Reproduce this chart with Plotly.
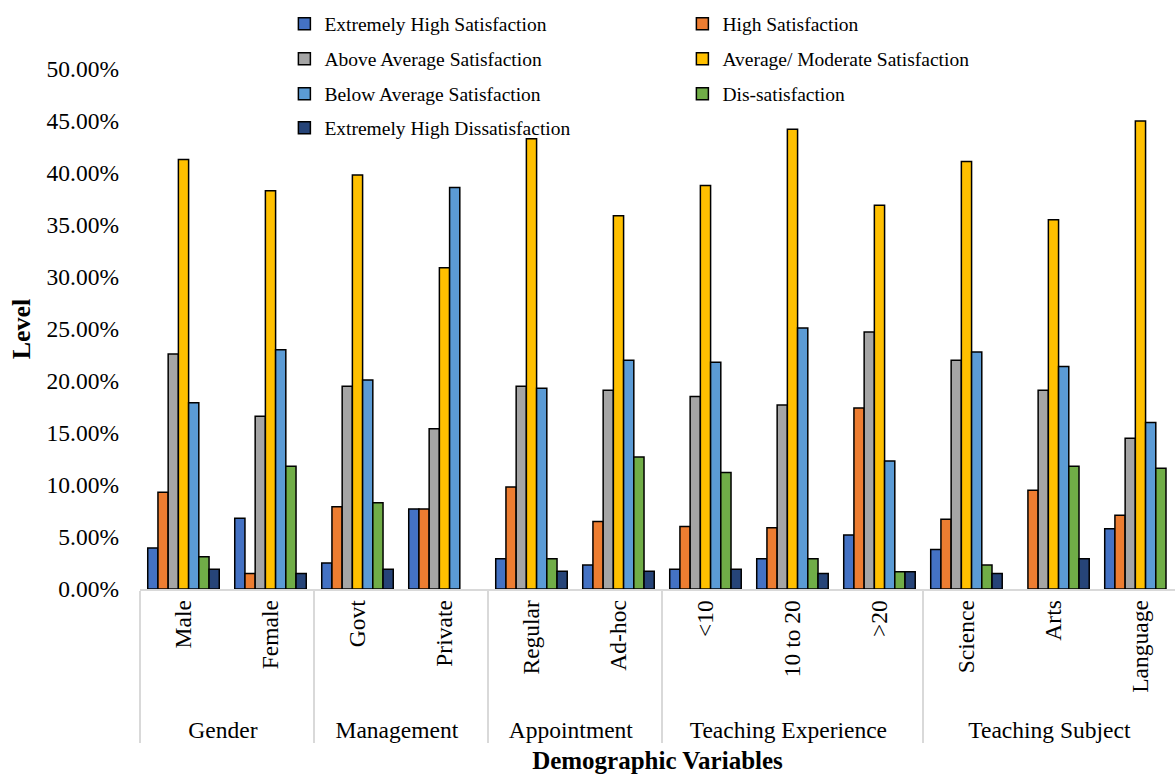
import plotly.graph_objects as go

# Demographic groups and their sub-categories
groups = ["Gender", "Gender", "Management", "Management", "Appointment", "Appointment",
          "Teaching Experience", "Teaching Experience", "Teaching Experience",
          "Teaching Subject", "Teaching Subject", "Teaching Subject"]
categories = ["Male", "Female", "Govt", "Private", "Regular", "Ad-hoc",
              "<10", "10 to 20", ">20", "Science", "Arts", "Language"]

# Satisfaction levels (percent of respondents)
extremely_high_satisfaction = [3.95, 6.8, 2.5, 7.7, 2.9, 2.3, 1.9, 2.9, 5.2, 3.8, 0, 5.8]
high_satisfaction = [9.3, 1.5, 7.9, 7.7, 9.8, 6.5, 6.0, 5.9, 17.4, 6.7, 9.5, 7.1]
above_average_satisfaction = [22.6, 16.6, 19.5, 15.4, 19.5, 19.1, 18.5, 17.7, 24.7, 22.0, 19.1, 14.5]
average_moderate_satisfaction = [41.3, 38.3, 39.8, 30.9, 43.3, 35.9, 38.8, 44.2, 36.9, 41.1, 35.5, 45.0]
below_average_satisfaction = [17.9, 23.0, 20.1, 38.6, 19.3, 22.0, 21.8, 25.1, 12.3, 22.8, 21.4, 16.0]
dis_satisfaction = [3.1, 11.8, 8.3, 0, 2.9, 12.7, 11.2, 2.9, 1.65, 2.3, 11.8, 11.6]
extremely_high_dissatisfaction = [1.9, 1.5, 1.9, 0, 1.7, 1.7, 1.9, 1.5, 1.65, 1.5, 2.9, 0]

series = [
    ("Extremely High Satisfaction", extremely_high_satisfaction, "#4472C4"),
    ("High Satisfaction", high_satisfaction, "#ED7D31"),
    ("Above Average Satisfaction", above_average_satisfaction, "#A5A5A5"),
    ("Average/ Moderate Satisfaction", average_moderate_satisfaction, "#FFC000"),
    ("Below Average Satisfaction", below_average_satisfaction, "#5B9BD5"),
    ("Dis-satisfaction", dis_satisfaction, "#70AD47"),
    ("Extremely High Dissatisfaction", extremely_high_dissatisfaction, "#264478"),
]

FONT = "Liberation Serif, Times New Roman, serif"

# Two legend entries per row; each row is its own legend so the row spacing can be set
legend_ids = ["legend", "legend", "legend2", "legend2", "legend3", "legend3", "legend4"]
row_y = [1.0865, 1.019, 0.952, 0.8865]

fig = go.Figure()
for (name, values, color), lid in zip(series, legend_ids):
    fig.add_trace(go.Bar(
        name=name,
        x=[groups, categories],
        # empty cells (0%) are left without a bar outline
        y=[v / 100 if v else None for v in values],
        marker=dict(color=color, line=dict(color="black", width=1.5)),
        legend=lid,
    ))

legend_style = dict(
    orientation="h",
    x=0.1395, xanchor="left", yanchor="middle",
    entrywidth=353, entrywidthmode="pixels",
    itemwidth=30,
    font=dict(family=FONT, size=19.5, color="black"),
    bgcolor="rgba(0,0,0,0)",
    traceorder="normal",
)

fig.update_layout(
    width=1175, height=776,
    margin=dict(l=140, r=0, t=69, b=187, autoexpand=False),
    paper_bgcolor="white", plot_bgcolor="white",
    font=dict(family=FONT, size=23.5, color="black"),
    barmode="group", bargap=0.178, bargroupgap=0,
    showlegend=True,
    legend=dict(legend_style, y=row_y[0]),
    legend2=dict(legend_style, y=row_y[1]),
    legend3=dict(legend_style, y=row_y[2]),
    legend4=dict(legend_style, y=row_y[3]),
)

fig.update_xaxes(
    type="multicategory",
    range=[-0.5, 11.397],
    automargin=False,
    tickangle=-90,
    tickfont=dict(family=FONT, size=23.5, color="black"),
    showline=True, linecolor="#D9D9D9", linewidth=1.5,
    showdividers=True, dividercolor="#D9D9D9", dividerwidth=1.5,
    ticks="", showgrid=False, zeroline=False,
    title=dict(text="<b>Demographic Variables</b>",
               font=dict(family=FONT, size=25, color="black"), standoff=10),
)

fig.update_yaxes(
    range=[0, 0.5], dtick=0.05, tickformat=".2%",
    automargin=False,
    ticklabelstandoff=20,
    tickfont=dict(family=FONT, size=23.5, color="black"),
    showgrid=False, zeroline=False, showline=False, ticks="",
    title=dict(text="<b>Level</b>", font=dict(family=FONT, size=26, color="black"), standoff=8),
)

fig.write_html("out.html")
